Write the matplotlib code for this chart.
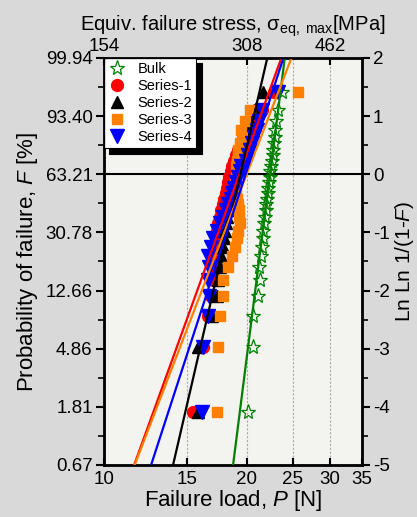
import numpy as np
import matplotlib.pyplot as plt
from matplotlib.ticker import FixedLocator, NullFormatter, NullLocator
from matplotlib.lines import Line2D

plt.rcParams['font.family'] = ['Liberation Sans', 'DejaVu Sans']
plt.rcParams['mathtext.fontset'] = 'custom'
plt.rcParams['mathtext.rm'] = 'Liberation Sans'
plt.rcParams['mathtext.it'] = 'Liberation Sans:italic'
plt.rcParams['axes.unicode_minus'] = False

# Weibull plotting positions (Ln Ln 1/(1-F)), 30 specimens per series
rankY = [-4.09, -2.97, -2.44, -2.09, -1.82, -1.60, -1.41, -1.25, -1.10, -0.97,
         -0.84, -0.73, -0.62, -0.51, -0.42, -0.32, -0.23, -0.13, -0.04, 0.05,
         0.14, 0.23, 0.33, 0.42, 0.53, 0.64, 0.76, 0.91, 1.10, 1.41]

# failure loads [N]
bulk = [20.1, 20.6, 20.6, 21.1, 21.3, 21.2, 21.4, 21.5, 21.6, 21.7,
        21.8, 21.9, 21.95, 22.0, 22.1, 22.15, 22.2, 22.3, 22.4, 22.45,
        22.5, 22.6, 22.7, 22.75, 22.8, 22.9, 23.0, 23.1, 23.3, 23.7]
series1 = [15.4, 16.2, 16.6, 16.8, 17.0, 17.1, 17.2, 17.2, 17.3, 17.3,
           17.4, 17.6, 17.7, 17.8, 17.9, 18.1, 18.2, 18.3, 18.4, 18.5,
           18.6, 18.8, 19.0, 19.2, 19.5, 19.9, 20.4, 21.0, 21.5, 22.8]
series2 = [15.8, 15.8, 16.9, 17.3, 17.4, 17.6, 17.7, 17.8, 17.9, 18.0,
           18.1, 18.2, 18.3, 18.4, 18.5, 18.6, 18.7, 18.8, 18.9, 19.0,
           19.1, 19.2, 19.3, 19.4, 19.6, 19.8, 20.0, 20.3, 20.7, 21.6]
series3 = [17.3, 17.4, 17.6, 17.8, 17.85, 18.3, 18.6, 18.9, 19.1, 19.2,
           19.35, 19.3, 19.3, 19.2, 19.1, 19.0, 18.9, 18.9, 19.0, 19.1,
           19.0, 19.1, 19.2, 19.2, 19.4, 19.6, 19.5, 19.8, 20.3, 25.7]
series4 = [16.1, 16.2, 16.6, 16.7, 16.6, 16.7, 16.6, 16.8, 17.0, 17.3,
           17.6, 17.8, 18.1, 18.3, 18.5, 18.6, 18.8, 19.0, 19.2, 19.4,
           19.5, 19.9, 20.1, 20.3, 20.5, 20.7, 21.0, 21.2, 21.5, 23.3]

# Weibull fits: (modulus m, characteristic load x0)
fitBulk = (27.9, 22.4)
fit1 = (9.8, 19.3)
fit2 = (15.3, 19.4)
fit3 = (9.2, 20.0)
fit4 = (10.9, 19.9)

probLabels = ['0.67', '1.81', '4.86', '12.66', '30.78', '63.21', '93.40', '99.94']
lnlnTicks = [-5, -4, -3, -2, -1, 0, 1, 2]
stressTicks = [154, 308, 462]

fig = plt.figure(figsize=(4.17, 5.17), dpi=100, facecolor='#d9d9d9')
ax = fig.add_axes([0.249, 0.1006, 0.619, 0.7874])
ax.set_facecolor('#f3f3ef')

series = [
    (bulk, fitBulk, 'Bulk', dict(marker='*', ms=11, mfc='none', mec='green', mew=0.9), 'green'),
    (series1, fit1, 'Series-1', dict(marker='o', ms=8.5, mfc='red', mec='red'), 'red'),
    (series2, fit2, 'Series-2', dict(marker='^', ms=9, mfc='black', mec='black'), 'black'),
    (series3, fit3, 'Series-3', dict(marker='s', ms=7.5, mfc='#ff8000', mec='#ff8000'), '#ff8000'),
    (series4, fit4, 'Series-4', dict(marker='v', ms=10, mfc='blue', mec='blue'), 'blue'),
]

handles = []
for data, fit, name, mk, col in series:
    ax.plot(data, rankY, ls='none', zorder=3, **mk)
    handles.append(Line2D([], [], ls='none', label=name, **mk))

for data, fit, name, mk, col in series:
    m, x0 = fit
    yy = np.array([-5.0, 2.0])
    ax.plot(x0 * np.exp(yy / m), yy, color=col, lw=1.6, zorder=4)

ax.set_xscale('log')
ax.set_xlim(10, 35)
ax.set_ylim(-5, 2)
ax.axhline(0, color='black', lw=1.5, zorder=2)
for gx in [15, 20, 25, 30]:
    ax.axvline(gx, color='#aaaaaa', lw=0.8, ls=(0, (2, 1.5)), zorder=1)

ax.xaxis.set_major_locator(FixedLocator([10, 15, 20, 25, 30, 35]))
ax.xaxis.set_minor_locator(NullLocator())
ax.set_xticklabels(['10', '15', '20', '25', '30', '35'])
ax.xaxis.set_minor_formatter(NullFormatter())
ax.set_yticks(lnlnTicks)
ax.set_yticklabels(probLabels)
ax.yaxis.set_minor_locator(FixedLocator(np.arange(-4.5, 2, 1.0)))
ax.tick_params(axis='x', which='major', direction='in', length=5, width=1.5, labelsize=13.5, pad=4)
ax.tick_params(axis='y', which='major', direction='out', length=6, width=1.5, labelsize=13.5, pad=2)
ax.tick_params(axis='y', which='minor', direction='out', length=4, width=1.2)
for s in ax.spines.values():
    s.set_linewidth(2)

ax.set_xlabel('Failure load, $\\mathit{P}$ [N]', fontsize=16, labelpad=0)
ax.set_ylabel('Probability of failure, $\\mathit{F}$ [%]', fontsize=16, labelpad=4)

axr = ax.twinx()
axr.set_ylim(-5, 2)
axr.set_yticks(lnlnTicks)
axr.set_yticklabels([str(t) for t in lnlnTicks])
axr.yaxis.set_minor_locator(FixedLocator(np.arange(-4.5, 2, 1.0)))
axr.tick_params(axis='y', which='major', direction='out', length=6, width=1.5, labelsize=13.5, pad=2)
axr.tick_params(axis='y', which='minor', direction='out', length=4, width=1.2)
axr.set_ylabel('Ln Ln 1/(1-$\\mathit{F}$)', fontsize=15, labelpad=2)

axt = ax.twiny()
axt.set_xscale('log')
axt.set_xlim(154, 539)
axt.xaxis.set_major_locator(FixedLocator(stressTicks))
axt.xaxis.set_minor_locator(NullLocator())
axt.set_xticklabels([str(t) for t in stressTicks])
axt.tick_params(axis='x', which='major', direction='in', length=5, width=1.5, labelsize=13.5, pad=2)
axt.set_xlabel('Equiv. failure stress, σ$_{\\mathrm{eq,\\ max}}$[MPa]', fontsize=14.5, labelpad=5)

leg = ax.legend(handles=handles, loc='upper left', bbox_to_anchor=(0, 1), borderaxespad=0,
                fancybox=False, edgecolor='black', framealpha=1, fontsize=10.5,
                handlelength=1.2, handletextpad=0.8, labelspacing=0.2, borderpad=0.3,
                shadow={'ox': 4, 'oy': -4, 'color': 'black', 'alpha': 1})
leg.get_frame().set_linewidth(0.8)
leg.set_zorder(10)

fig.savefig('out.png', dpi=100, facecolor=fig.get_facecolor())
